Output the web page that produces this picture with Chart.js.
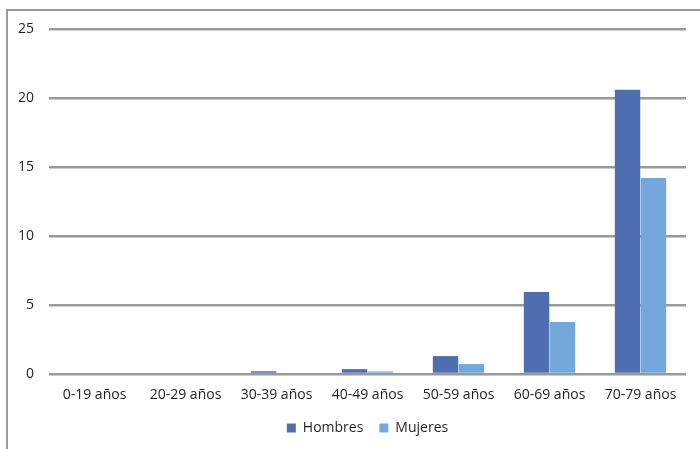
<!DOCTYPE html>
<html>
<head>
<meta charset="utf-8">
<script src="https://cdn.jsdelivr.net/npm/chart.js@4"></script>
<style>
  html, body { margin: 0; padding: 0; background: #fff; }
  #wrap { position: relative; width: 700px; height: 449px; }
  #frame { position: absolute; left: 6px; top: 9px; right: 0; bottom: 0;
           border-top: 2px solid #9a9a9a; border-left: 2px solid #9a9a9a; pointer-events: none; }
  canvas { position: absolute; left: 0; top: 0; }
</style>
</head>
<body>
<div id="wrap">
  <canvas id="myChart" width="700" height="449"></canvas>
  <div id="frame"></div>
</div>
<script>
// age groups and values (per series)
const ageGroups = ['0-19 años', '20-29 años', '30-39 años', '40-49 años', '50-59 años', '60-69 años', '70-79 años'];
const hombres = [0, 0, 0.2, 0.35, 1.3, 5.95, 20.6];
const mujeres = [0, 0, 0, 0.18, 0.72, 3.77, 14.2];
const yTicks = [0, 5, 10, 15, 20, 25];

const textColor = '#231f20';
const gridColor = '#999999';
const baseFont = { family: 'Open Sans', size: 14 };

new Chart(document.getElementById('myChart'), {
  type: 'bar',
  data: {
    labels: ageGroups,
    datasets: [
      { label: 'Hombres', data: hombres, backgroundColor: '#4f6eaf', borderWidth: 0 },
      { label: 'Mujeres', data: mujeres, backgroundColor: '#74a7dc', borderWidth: 0 }
    ]
  },
  options: {
    responsive: false,
    animation: false,
    layout: { padding: { top: 29, right: 14, left: 0, bottom: 4 } },
    datasets: { bar: { categoryPercentage: 0.57, barPercentage: 0.98 } },
    plugins: {
      tooltip: { enabled: false },
      legend: {
        position: 'bottom',
        fullSize: false,
        labels: {
          boxWidth: 9, boxHeight: 9, padding: 16,
          color: textColor, font: baseFont
        }
      }
    },
    scales: {
      x: {
        afterFit: (scale) => { scale.height = 31; },
        grid: { display: false, drawTicks: false },
        border: { display: false },
        ticks: { color: textColor, font: baseFont, padding: 13, maxRotation: 0 }
      },
      y: {
        min: 0, max: 25,
        afterFit: (scale) => { scale.width = 49; },
        afterBuildTicks: (scale) => { scale.ticks = yTicks.map(v => ({ value: v })); },
        grid: { color: gridColor, lineWidth: 2.5, drawTicks: false },
        border: { display: false },
        ticks: { color: textColor, font: baseFont, padding: 15 }
      }
    }
  }
});
</script>
</body>
</html>
